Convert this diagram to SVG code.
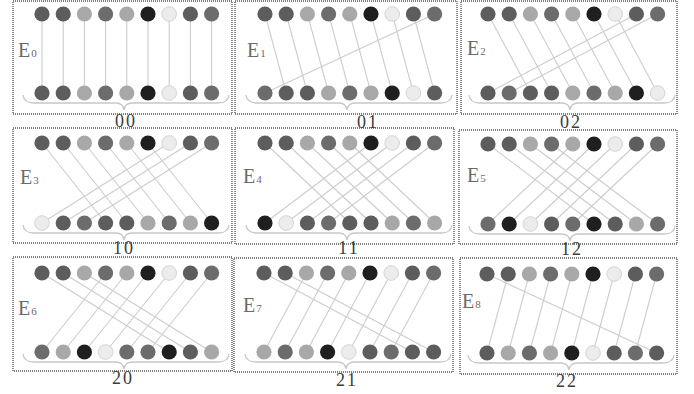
<svg xmlns="http://www.w3.org/2000/svg" width="694" height="394" viewBox="0 0 694 394">
<style>
.box{fill:none;stroke:#7e7e7e;stroke-width:1.8;stroke-dasharray:1 1}
.ln{fill:none;stroke:#cdcdcd;stroke-width:1.1}
.br{fill:none;stroke:#c8c8c8;stroke-width:1.3}
.D{fill:#5d5d5d}.M{fill:#6c6c6c}.L{fill:#a8a8a8}.K{fill:#1f1f1f}.W{fill:#ececec;stroke:#d4d4d4;stroke-width:1}
.lab{font-family:"Liberation Serif",serif;font-size:18px;fill:#3c3c3c;text-anchor:middle;letter-spacing:2px}
.e{font-family:"Liberation Serif",serif;font-size:20px;fill:#6a6a6a}
.e tspan{font-size:11px;fill:#6a6a6a}
</style>
<defs>
<g id="top">
<circle class="D" cx="0" cy="0" r="7.6"/><circle class="D" cx="21.2" cy="0" r="7.6"/><circle class="L" cx="42.4" cy="0" r="7.6"/><circle class="M" cx="63.6" cy="0" r="7.6"/><circle class="L" cx="84.8" cy="0" r="7.6"/><circle class="K" cx="106" cy="0" r="7.6"/><circle class="W" cx="127.2" cy="0" r="7.3"/><circle class="D" cx="148.4" cy="0" r="7.6"/><circle class="M" cx="169.6" cy="0" r="7.6"/>
</g>
<path id="brace" class="br" d="M-19 81 Q-18 89 -8 89 L74 89 Q81 89 82 96 Q83 89 90 89 L176 89 Q186 89 187 81"/>
</defs>

<g id="frames">
<rect class="box" x="13" y="1" width="219" height="113"/>
<rect class="box" x="235" y="1" width="222" height="113"/>
<rect class="box" x="461" y="1" width="216" height="113"/>
<rect class="box" x="13" y="128" width="219" height="115"/>
<rect class="box" x="235" y="128" width="219" height="116"/>
<rect class="box" x="459" y="130" width="218" height="114"/>
<rect class="box" x="13" y="257" width="219" height="114"/>
<rect class="box" x="234" y="258" width="219" height="114"/>
<rect class="box" x="460" y="258" width="217" height="116"/>
</g>

<g id="connectors">
<path class="ln" transform="translate(42,14)" d="M0 0L0 79M21.2 0L21.2 79M42.4 0L42.4 79M63.6 0L63.6 79M84.8 0L84.8 79M106 0L106 79M127.2 0L127.2 79M148.4 0L148.4 79M169.6 0L169.6 79"/>
<path class="ln" transform="translate(265,14)" d="M0 0L21.2 79M21.2 0L42.4 79M42.4 0L63.6 79M63.6 0L84.8 79M84.8 0L106 79M106 0L127.2 79M127.2 0L148.4 79M148.4 0L169.6 79M169.6 0L0 79"/>
<path class="ln" transform="translate(488,14)" d="M0 0L42.4 79M21.2 0L63.6 79M42.4 0L84.8 79M63.6 0L106 79M84.8 0L127.2 79M106 0L148.4 79M127.2 0L169.6 79M148.4 0L0 79M169.6 0L21.2 79"/>
<path class="ln" transform="translate(42,143)" d="M0 0L63.6 80M21.2 0L84.8 80M42.4 0L106 80M63.6 0L127.2 80M84.8 0L148.4 80M106 0L169.6 80M127.2 0L0 80M148.4 0L21.2 80M169.6 0L42.4 80"/>
<path class="ln" transform="translate(265,143)" d="M0 0L84.8 80M21.2 0L106 80M42.4 0L127.2 80M63.6 0L148.4 80M84.8 0L169.6 80M106 0L0 80M127.2 0L21.2 80M148.4 0L42.4 80M169.6 0L63.6 80"/>
<path class="ln" transform="translate(488,144)" d="M0 0L106 80M21.2 0L127.2 80M42.4 0L148.4 80M63.6 0L169.6 80M84.8 0L0 80M106 0L21.2 80M127.2 0L42.4 80M148.4 0L63.6 80M169.6 0L84.8 80"/>
<path class="ln" transform="translate(42,273)" d="M0 0L127.2 79M21.2 0L148.4 79M42.4 0L169.6 79M63.6 0L0 79M84.8 0L21.2 79M106 0L42.4 79M127.2 0L63.6 79M148.4 0L84.8 79M169.6 0L106 79"/>
<path class="ln" transform="translate(264,273)" d="M0 0L148.4 79M21.2 0L169.6 79M42.4 0L0 79M63.6 0L21.2 79M84.8 0L42.4 79M106 0L63.6 79M127.2 0L84.8 79M148.4 0L106 79M169.6 0L127.2 79"/>
<path class="ln" transform="translate(487,274)" d="M0 0L169.6 79M21.2 0L0 79M42.4 0L21.2 79M63.6 0L42.4 79M84.8 0L63.6 79M106 0L84.8 79M127.2 0L106 79M148.4 0L127.2 79M169.6 0L148.4 79"/>
</g>

<g id="E0" transform="translate(42,14)">
<use href="#top"/>
<g transform="translate(0,79)"><circle class="D" cx="0" r="7.6"/><circle class="D" cx="21.2" r="7.6"/><circle class="L" cx="42.4" r="7.6"/><circle class="M" cx="63.6" r="7.6"/><circle class="L" cx="84.8" r="7.6"/><circle class="K" cx="106" r="7.6"/><circle class="W" cx="127.2" r="7.3"/><circle class="D" cx="148.4" r="7.6"/><circle class="M" cx="169.6" r="7.6"/></g>
<use href="#brace"/>
</g>
<g id="E1" transform="translate(265,14)">
<use href="#top"/>
<g transform="translate(0,79)"><circle class="M" cx="0" r="7.6"/><circle class="D" cx="21.2" r="7.6"/><circle class="D" cx="42.4" r="7.6"/><circle class="L" cx="63.6" r="7.6"/><circle class="M" cx="84.8" r="7.6"/><circle class="L" cx="106" r="7.6"/><circle class="K" cx="127.2" r="7.6"/><circle class="W" cx="148.4" r="7.3"/><circle class="D" cx="169.6" r="7.6"/></g>
<use href="#brace"/>
</g>
<g id="E2" transform="translate(488,14)">
<use href="#top"/>
<g transform="translate(0,79)"><circle class="D" cx="0" r="7.6"/><circle class="M" cx="21.2" r="7.6"/><circle class="D" cx="42.4" r="7.6"/><circle class="D" cx="63.6" r="7.6"/><circle class="L" cx="84.8" r="7.6"/><circle class="M" cx="106" r="7.6"/><circle class="L" cx="127.2" r="7.6"/><circle class="K" cx="148.4" r="7.6"/><circle class="W" cx="169.6" r="7.3"/></g>
<use href="#brace"/>
</g>
<g id="E3" transform="translate(42,143)">
<use href="#top"/>
<g transform="translate(0,80)"><circle class="W" cx="0" r="7.3"/><circle class="D" cx="21.2" r="7.6"/><circle class="M" cx="42.4" r="7.6"/><circle class="D" cx="63.6" r="7.6"/><circle class="D" cx="84.8" r="7.6"/><circle class="L" cx="106" r="7.6"/><circle class="M" cx="127.2" r="7.6"/><circle class="L" cx="148.4" r="7.6"/><circle class="K" cx="169.6" r="7.6"/></g>
<use href="#brace" transform="translate(0,1)"/>
</g>
<g id="E4" transform="translate(265,143)">
<use href="#top"/>
<g transform="translate(0,80)"><circle class="K" cx="0" r="7.6"/><circle class="W" cx="21.2" r="7.3"/><circle class="D" cx="42.4" r="7.6"/><circle class="M" cx="63.6" r="7.6"/><circle class="D" cx="84.8" r="7.6"/><circle class="D" cx="106" r="7.6"/><circle class="L" cx="127.2" r="7.6"/><circle class="M" cx="148.4" r="7.6"/><circle class="L" cx="169.6" r="7.6"/></g>
<use href="#brace" transform="translate(0,1)"/>
</g>
<g id="E5" transform="translate(488,144)">
<use href="#top"/>
<g transform="translate(0,80)"><circle class="M" cx="0" r="7.6"/><circle class="K" cx="21.2" r="7.6"/><circle class="W" cx="42.4" r="7.3"/><circle class="D" cx="63.6" r="7.6"/><circle class="M" cx="84.8" r="7.6"/><circle class="K" cx="106" r="7.6"/><circle class="D" cx="127.2" r="7.6"/><circle class="L" cx="148.4" r="7.6"/><circle class="M" cx="169.6" r="7.6"/></g>
<use href="#brace" transform="translate(0,1)"/>
</g>
<g id="E6" transform="translate(42,273)">
<use href="#top"/>
<g transform="translate(0,79)"><circle class="M" cx="0" r="7.6"/><circle class="L" cx="21.2" r="7.6"/><circle class="K" cx="42.4" r="7.6"/><circle class="W" cx="63.6" r="7.3"/><circle class="M" cx="84.8" r="7.6"/><circle class="M" cx="106" r="7.6"/><circle class="K" cx="127.2" r="7.6"/><circle class="D" cx="148.4" r="7.6"/><circle class="L" cx="169.6" r="7.6"/></g>
<use href="#brace"/>
</g>
<g id="E7" transform="translate(264,273)">
<use href="#top"/>
<g transform="translate(0,79)"><circle class="L" cx="0" r="7.6"/><circle class="M" cx="21.2" r="7.6"/><circle class="L" cx="42.4" r="7.6"/><circle class="K" cx="63.6" r="7.6"/><circle class="W" cx="84.8" r="7.3"/><circle class="D" cx="106" r="7.6"/><circle class="M" cx="127.2" r="7.6"/><circle class="D" cx="148.4" r="7.6"/><circle class="D" cx="169.6" r="7.6"/></g>
<use href="#brace"/>
</g>
<g id="E8" transform="translate(487,274)">
<use href="#top"/>
<g transform="translate(0,79)"><circle class="D" cx="0" r="7.6"/><circle class="L" cx="21.2" r="7.6"/><circle class="M" cx="42.4" r="7.6"/><circle class="L" cx="63.6" r="7.6"/><circle class="K" cx="84.8" r="7.6"/><circle class="W" cx="106" r="7.3"/><circle class="D" cx="127.2" r="7.6"/><circle class="M" cx="148.4" r="7.6"/><circle class="D" cx="169.6" r="7.6"/></g>
<use href="#brace"/>
</g>

<g id="labels">
<text class="e" x="18" y="57">E<tspan dx="1">0</tspan></text>
<text class="e" x="247" y="57">E<tspan dx="1">1</tspan></text>
<text class="e" x="467" y="55">E<tspan dx="1">2</tspan></text>
<text class="e" x="20" y="184">E<tspan dx="1">3</tspan></text>
<text class="e" x="243" y="183">E<tspan dx="1">4</tspan></text>
<text class="e" x="467" y="182">E<tspan dx="1">5</tspan></text>
<text class="e" x="18" y="315">E<tspan dx="1">6</tspan></text>
<text class="e" x="243" y="312">E<tspan dx="1">7</tspan></text>
<text class="e" x="462" y="308">E<tspan dx="1">8</tspan></text>
<text class="lab" x="126" y="127">00</text>
<text class="lab" x="368" y="128">01</text>
<text class="lab" x="571" y="128">02</text>
<text class="lab" x="124" y="254">10</text>
<text class="lab" x="349" y="254">11</text>
<text class="lab" x="572" y="255">12</text>
<text class="lab" x="123" y="384">20</text>
<text class="lab" x="347" y="386">21</text>
<text class="lab" x="567" y="387">22</text>
</g>
</svg>
